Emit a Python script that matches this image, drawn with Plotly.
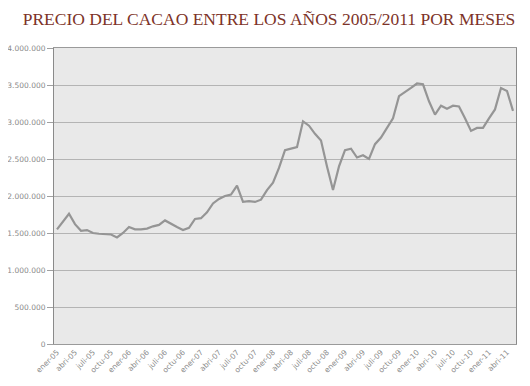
import plotly.graph_objects as go

months = list(range(77))  # ener-05 .. may-11
precio = [
    1550000, 1650000, 1760000, 1620000, 1530000, 1540000, 1500000, 1490000,
    1490000, 1480000, 1440000, 1500000, 1580000, 1550000, 1550000, 1560000,
    1590000, 1610000, 1670000, 1620000, 1580000, 1540000, 1570000, 1690000,
    1700000, 1780000, 1900000, 1960000, 2000000, 2020000, 2140000, 1920000,
    1930000, 1920000, 1950000, 2080000, 2180000, 2380000, 2620000, 2640000,
    2660000, 3010000, 2950000, 2840000, 2750000, 2400000, 2080000, 2400000,
    2620000, 2640000, 2520000, 2550000, 2500000, 2700000, 2790000, 2920000,
    3050000, 3350000, 3400000, 3460000, 3520000, 3510000, 3280000, 3100000,
    3220000, 3180000, 3220000, 3210000, 3050000, 2880000, 2920000, 2920000,
    3050000, 3170000, 3460000, 3420000, 3150000,
]
x_tick_pos = list(range(0, 77, 3))
x_tick_labels = [
    "ener-05", "abri-05", "juli-05", "octu-05",
    "ener-06", "abri-06", "juli-06", "octu-06",
    "ener-07", "abri-07", "juli-07", "octu-07",
    "ener-08", "abri-08", "juli-08", "octu-08",
    "ener-09", "abri-09", "juli-09", "octu-09",
    "ener-10", "abri-10", "juli-10", "octu-10",
    "ener-11", "abri-11",
]
y_tick_vals = [0, 500000, 1000000, 1500000, 2000000, 2500000, 3000000, 3500000, 4000000]

fig = go.Figure()
fig.add_trace(go.Scatter(
    x=months, y=precio, mode="lines",
    line=dict(color="#959595", width=2.2),
    hoverinfo="skip", showlegend=False,
))

# page body has an 8px default margin, so the figure is sized 522x378
fig.update_layout(
    width=522, height=378,
    margin=dict(l=46, r=14, t=40, b=42, autoexpand=False),
    paper_bgcolor="white",
    plot_bgcolor="#e9e9e9",
    separators=",.",
    title=dict(
        text="PRECIO DEL CACAO ENTRE LOS AÑOS 2005/2011 POR MESES",
        x=0.5, xanchor="center", xref="container", y=0.972, yanchor="middle",
        font=dict(family="Liberation Serif, serif", size=17.5, color="#7d3328"),
    ),
    xaxis=dict(
        range=[-0.5, 76.5], automargin=False,
        tickmode="array", tickvals=x_tick_pos, ticktext=x_tick_labels,
        tickangle=-45,
        tickfont=dict(family="DejaVu Sans, sans-serif", size=7.5, color="#8a8a8a"),
        showgrid=False, zeroline=False,
        showline=True, linecolor="#9a9a9a", linewidth=1, mirror=True,
        ticks="", fixedrange=True,
    ),
    yaxis=dict(
        range=[0, 4000000], automargin=False,
        tickmode="array", tickvals=y_tick_vals,
        tickformat=",.0f",
        tickfont=dict(family="DejaVu Sans, sans-serif", size=7.5, color="#8a8a8a"),
        showgrid=True, gridcolor="#b4b4b4", gridwidth=1,
        zeroline=False,
        showline=True, linecolor="#8a8a8a", linewidth=1, mirror=True,
        ticks="outside", ticklen=6, tickcolor="#a0a0a0",
        fixedrange=True,
    ),
)

fig.write_html("out.html")
